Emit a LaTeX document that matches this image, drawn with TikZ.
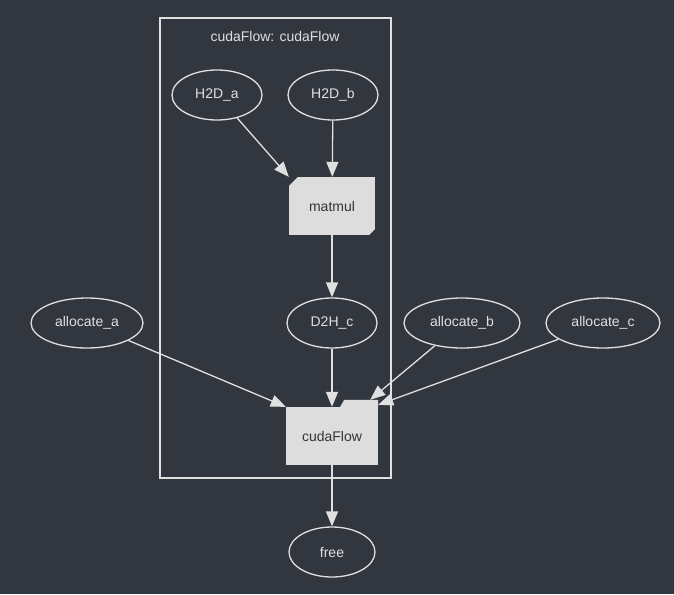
\documentclass[tikz,border=0pt]{standalone}
\usepackage{fontspec}
\setmainfont{Liberation Sans}
\usetikzlibrary{positioning,calc,arrows.meta,shapes.geometric}
\definecolor{bgc}{HTML}{31363F}
\definecolor{fgc}{HTML}{E0E0E0}
\definecolor{boxc}{HTML}{DDDDDD}
\tikzset{font=\fontsize{14pt}{16pt}\selectfont}

\begin{document}
\begin{tikzpicture}[x=1pt,y=-1pt]
	\tikzstyle{op}=[ellipse, draw=fgc, line width=1.3pt, text=fgc, minimum width=90, minimum height=50, inner sep=0pt]
	\tikzstyle{task}=[rectangle, fill=boxc, text=black!80, minimum width=86, minimum height=58, inner sep=0pt]
	\tikzstyle{edge}=[draw=fgc, line width=1.3pt, -{Triangle[length=15pt,width=12pt,fill=fgc]}]
	\fill[bgc] (0,0) rectangle (674,594);
	\useasboundingbox (0,0) rectangle (674,594);

	% cluster
	\draw[fgc, line width=1.2pt] (160,18) rectangle (391,478);
	\node[text=fgc] (cl) at (275,36) {cudaFlow: cudaFlow};

	\node[op] (h2da) at (217,95) {H2D\_a};
	\node[op] (h2db) at (333,95) {H2D\_b};
	\node[task] (matmul) at (332,206) {matmul};
	\node[op] (d2hc) at (332,323) {D2H\_c};
	\node[op, minimum width=112] (alla) at (87,323) {allocate\_a};
	\node[op, minimum width=116] (allb) at (462,323) {allocate\_b};
	\node[op, minimum width=114] (allc) at (603,323) {allocate\_c};
	\node[task, minimum width=92, minimum height=58] (cf) at (332,436) {cudaFlow};
	\node[op, minimum width=86] (free) at (332,552) {free};

	% notches of the task shapes
	\fill[bgc] (matmul.north west) -- ++(9,0) -- ++(-9,9) -- cycle;
	\fill[bgc] (matmul.south east) -- ++(-6,0) -- ++(6,-6) -- cycle;
	\fill[boxc] ($(cf.north east)+(-38,0)$) -- ++(4,-7) -- ($(cf.north east)+(0,-7)$) -- (cf.north east) -- cycle;

	\draw[edge] (h2da) -- (matmul.north west);
	\draw[edge] (h2db) -- (matmul);
	\draw[edge] (matmul) -- (d2hc);
	\draw[edge] (d2hc) -- (cf);
	\draw[edge] (alla) -- (cf.north west);
	\draw[edge] (allb) -- ($(cf.north east)+(-8,-7)$);
	\draw[edge] (allc) -- ($(cf.north east)+(0,-2)$);
	\draw[edge] (cf) -- (free);
\end{tikzpicture}
\end{document}
